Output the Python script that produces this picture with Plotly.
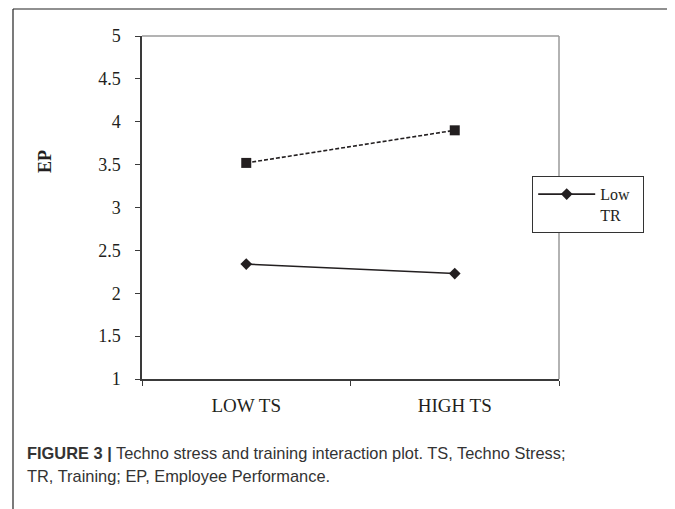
import plotly.graph_objects as go

categories = ["LOW TS", "HIGH TS"]
low_tr = [2.34, 2.23]
high_tr = [3.52, 3.90]
y_ticks = [1, 1.5, 2, 2.5, 3, 3.5, 4, 4.5, 5]
y_tick_labels = ["1", "1.5", "2", "2.5", "3", "3.5", "4", "4.5", "5"]

OFF = 8  # page body margin
W, H = 675 - OFF, 509 - OFF
L, R, T, B = 142 - OFF, 559 - OFF, 36 - OFF, 379 - OFF  # plot area in figure px


def px_x(x):  # screenshot px -> paper
    return (x - OFF - L) / (R - L)


def px_y(y):
    return (B - (y - OFF)) / (B - T)


ink = "#231f20"
serif = "Liberation Serif, Times New Roman, serif"
sans = "Liberation Sans, Arial, sans-serif"

fig = go.Figure()
fig.add_trace(go.Scatter(
    x=categories, y=low_tr, name="Low&nbsp;&nbsp;<br>TR", mode="lines+markers",
    line=dict(color=ink, width=1.6),
    marker=dict(symbol="diamond", size=9, color=ink),
))
fig.add_trace(go.Scatter(
    x=categories, y=high_tr, name="High TR", mode="lines+markers",
    line=dict(color=ink, width=1.6, dash="4px,2px"),
    marker=dict(symbol="square", size=10, color=ink),
    showlegend=False,
))

shapes = [
    dict(type="line", xref="paper", yref="paper", x0=0, x1=1, y0=1, y1=1,
         line=dict(color="#9a9a9a", width=1.5), layer="below"),
    dict(type="line", xref="paper", yref="paper", x0=1, x1=1, y0=0, y1=1,
         line=dict(color="#9a9a9a", width=1.5), layer="below"),
    dict(type="line", xref="paper", yref="paper", x0=px_x(13), x1=px_x(670),
         y0=px_y(9), y1=px_y(9), line=dict(color="#222", width=1.2)),
    dict(type="line", xref="paper", yref="paper", x0=px_x(13), x1=px_x(13),
         y0=px_y(9), y1=px_y(520), line=dict(color="#222", width=1.2)),
    dict(type="line", xref="paper", yref="paper", x0=px_x(670), x1=px_x(670),
         y0=px_y(9), y1=px_y(520), line=dict(color="#666", width=1.5)),
]

annotations = [
    dict(text="<b>EP</b>", xref="paper", yref="paper", x=px_x(45), y=px_y(162),
         showarrow=False, textangle=-90, font=dict(family=serif, size=18, color=ink),
         xanchor="center", yanchor="middle"),
    dict(text="<b>FIGURE 3 |</b> Techno stress and training interaction plot. TS, Techno Stress;",
         xref="paper", yref="paper", x=px_x(25), y=px_y(453), showarrow=False,
         xanchor="left", yanchor="middle", font=dict(family=sans, size=16.4, color="#333")),
    dict(text="TR, Training; EP, Employee Performance.",
         xref="paper", yref="paper", x=px_x(25), y=px_y(476), showarrow=False,
         xanchor="left", yanchor="middle", font=dict(family=sans, size=16.4, color="#333")),
]

fig.update_layout(
    width=W, height=H,
    margin=dict(l=L, r=W - R, t=T, b=H - B, pad=0),
    paper_bgcolor="white", plot_bgcolor="white",
    showlegend=True,
    legend=dict(
        x=px_x(532), y=px_y(176), xanchor="left", yanchor="top",
        bgcolor="white", bordercolor="#333", borderwidth=1.2,
        font=dict(family=serif, size=16, color=ink),
        valign="top", itemwidth=57,
        tracegroupgap=0,
    ),
    shapes=shapes,
    annotations=annotations,
    xaxis=dict(
        type="category", range=[-0.5, 1.5], showgrid=False, zeroline=False,
        showline=True, linecolor="#3a3a3a", linewidth=1.5,
        ticks="outside", ticklen=5, tickcolor="#3a3a3a", tickwidth=1.2,
        tickson="boundaries", ticklabelstandoff=8,
        tickfont=dict(family=serif, size=19, color=ink),
    ),
    yaxis=dict(
        range=[1, 5], tickvals=y_ticks, ticktext=y_tick_labels,
        showgrid=False, zeroline=False,
        showline=True, linecolor="#3a3a3a", linewidth=1.5,
        ticks="outside", ticklen=5, tickcolor="#3a3a3a", tickwidth=1.2,
        ticklabelstandoff=11,
        tickfont=dict(family=serif, size=18, color=ink),
    ),
)

fig.write_html("out.html")
